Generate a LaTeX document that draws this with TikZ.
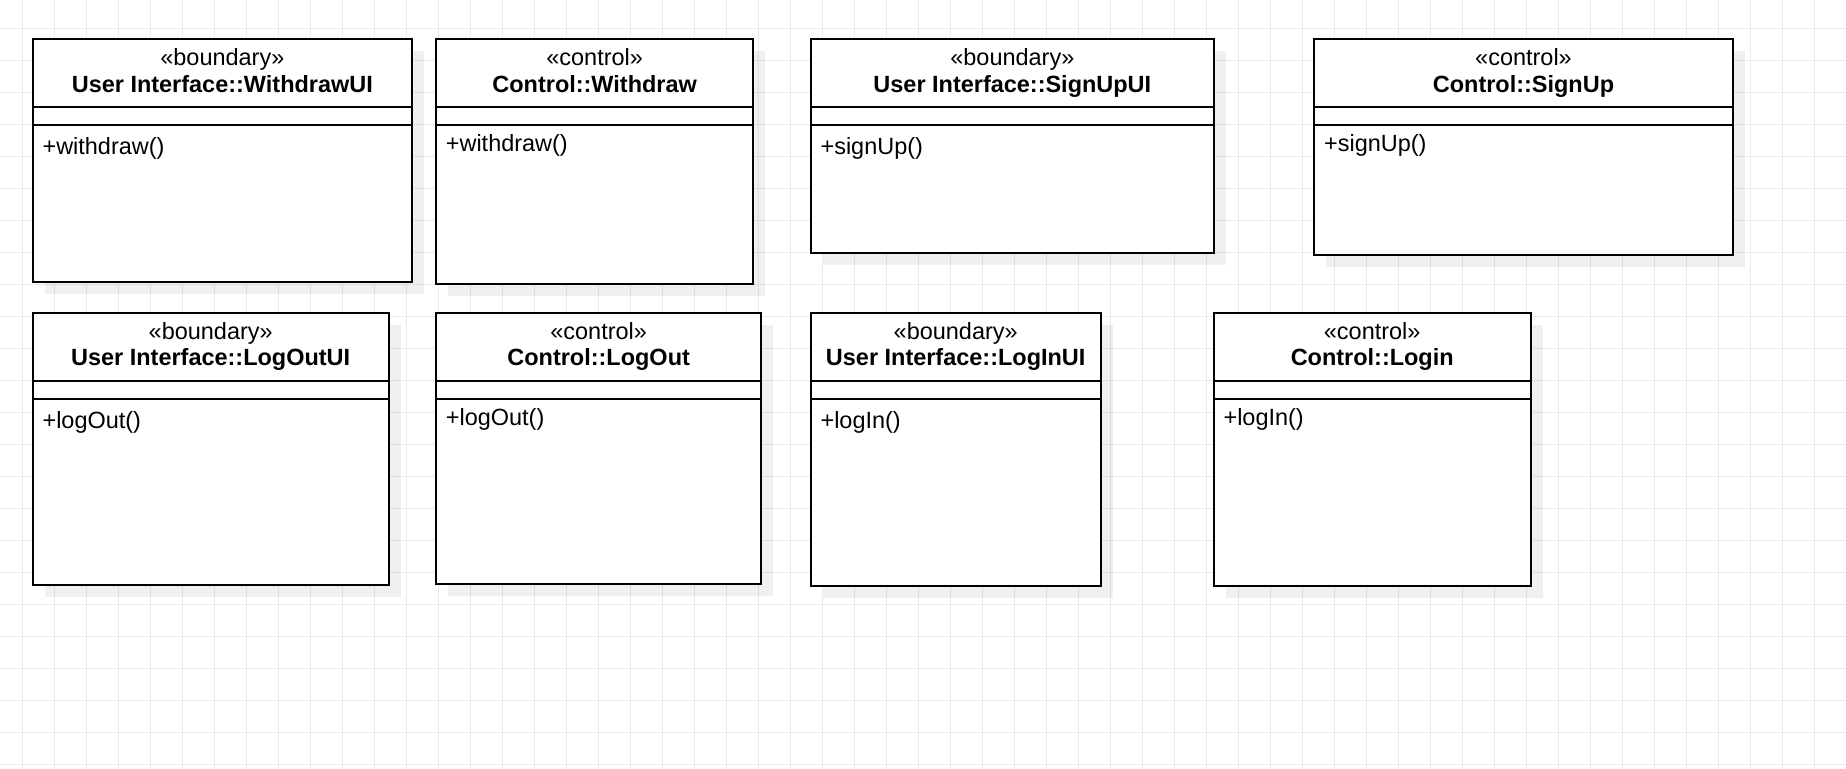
\documentclass[tikz,border=0pt]{standalone}
\usepackage{fontspec}
\setmainfont{Liberation Sans}
\definecolor{gridgray}{HTML}{EBEBEB}

% One UML class: #1 name, #2 left, #3 top, #4 right, #5 bottom (in px),
% #6 stereotype, #7 title, #8 operation, #9 baseline of the operation below the top
\newcommand\umlclass[9]{%
  \pgfmathsetmacro\clsw{(#4-#2)*0.75}%
  \pgfmathsetmacro\clsh{(#5-#3)*0.75}%
  \fill[shadowbox] (#2+12,#3+12) rectangle (#4+12,#5+12);
  \node[classbox, minimum width=\clsw pt, minimum height=\clsh pt]
    (#1) at ({(#2+#4)/2},{(#3+#5)/2}) {};
  \draw[sepline] ([yshift=-51.2pt]#1.north west) -- ([yshift=-51.2pt]#1.north east);
  \draw[sepline] ([yshift=-64.7pt]#1.north west) -- ([yshift=-64.7pt]#1.north east);
  \node[stereo] (#1-st) at ({(#2+#4)/2},{#3+26.7}) {«#6»};
  \node[clstitle] (#1-ti) at ({(#2+#4)/2},{#3+53}) {#7};
  \node[clsop] (#1-op) at ({#2+9.6},{#3+#9}) {#8};
}

\begin{document}
\begin{tikzpicture}[x=0.75pt,y=-0.75pt,
  classbox/.style={draw=black, fill=white, line width=1.3pt, inner sep=0pt, outer sep=0pt},
  sepline/.style={draw=black, line width=1.3pt},
  shadowbox/.style={fill=black, fill opacity=0.06},
  gridline/.style={draw=gridgray, line width=0.75pt},
  stereo/.style={anchor=base, inner sep=0pt, font=\fontsize{17.6}{21}\selectfont},
  clstitle/.style={anchor=base, inner sep=0pt, font=\fontsize{17.6}{21}\selectfont\bfseries},
  clsop/.style={anchor=base west, inner sep=0pt, font=\fontsize{17.6}{21}\selectfont}]

% canvas and grid
\fill[white] (0,0) rectangle (1846,768);
\useasboundingbox (0,0) rectangle (1846,768);
\foreach \k in {0,...,56} \draw[gridline] (22.3+32*\k,0) -- (22.3+32*\k,768);
\foreach \k in {0,...,23} \draw[gridline] (0,28.3+32*\k) -- (1846,28.3+32*\k);

% upper row
\umlclass{withdrawui}{32.7}{39}{412}{282}{boundary}{User Interface::WithdrawUI}{+withdraw()}{115.8}
\umlclass{withdraw}{436}{39}{753.3}{284}{control}{Control::Withdraw}{+withdraw()}{112.7}
\umlclass{signupui}{810.7}{39}{1214}{253.3}{boundary}{User Interface::SignUpUI}{+signUp()}{115.8}
\umlclass{signup}{1314.3}{39}{1732.7}{255}{control}{Control::SignUp}{+signUp()}{112.7}

% lower row
\umlclass{logoutui}{32.7}{312.7}{388.7}{584.7}{boundary}{User Interface::LogOutUI}{+logOut()}{115.8}
\umlclass{logout}{436}{312.7}{761.3}{584.3}{control}{Control::LogOut}{+logOut()}{112.7}
\umlclass{loginui}{810.7}{312.7}{1100.7}{586}{boundary}{User Interface::LogInUI}{+logIn()}{115.8}
\umlclass{login}{1213.7}{312.7}{1530.7}{586}{control}{Control::Login}{+logIn()}{112.7}
\end{tikzpicture}
\end{document}
